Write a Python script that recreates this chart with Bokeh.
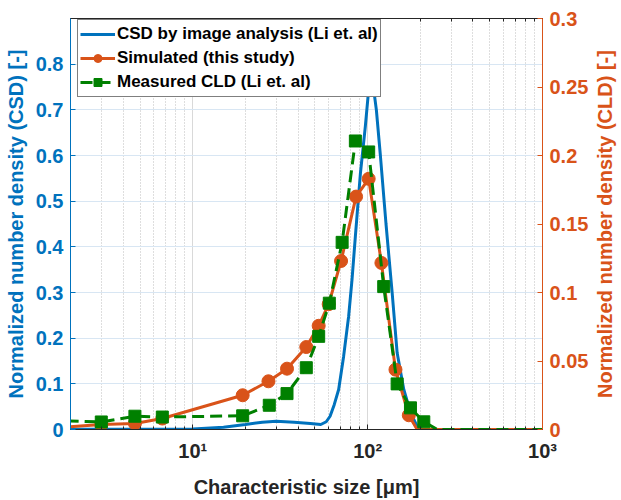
import math
from bokeh.plotting import figure
from bokeh.models import (Range1d, LinearAxis, LogAxis, LogTicker, FixedTicker,
                          CustomJSTickFormatter, Legend, LegendItem, Label)
from bokeh.embed import file_html
from bokeh.resources import INLINE

# CSD by image analysis (left axis)
csd_size = [1, 10, 15, 20, 25, 30, 38, 47, 54, 58, 61, 64.5, 68.3, 72.9, 77.9,
            81.5, 85.1, 90.9, 97.1, 101, 103, 105, 107, 109, 112.2, 118.3, 127.4,
            138.1, 147.5, 161, 176, 192, 206, 1000]
csd_density = [0, 0.001, 0.005, 0.011, 0.016, 0.018, 0.016, 0.013, 0.011, 0.017,
               0.029, 0.055, 0.0875, 0.16, 0.248, 0.33, 0.423, 0.56, 0.665, 0.737,
               0.76, 0.77, 0.76, 0.737, 0.70, 0.60, 0.45, 0.30, 0.168, 0.0875,
               0.037, 0.007, 0, 0]

# Simulated CLD (right axis)
sim_size = [1.5, 3.0, 4.67, 6.7, 19.3, 27.1, 34.6, 44.6, 52.5, 59.9, 70.5, 85.9,
            101.4, 119.9, 144.3, 172, 192, 1000]
sim_cld = [0.001, 0.0036, 0.0044, 0.008, 0.025, 0.0352, 0.0444, 0.0602, 0.0757,
           0.0915, 0.123, 0.170, 0.183, 0.1216, 0.0437, 0.0104, 0, 0]

# Measured CLD (right axis)
meas_size = [1.5, 3.0, 4.67, 6.7, 19.3, 27.4, 34.6, 44.6, 52.5, 60.4, 71.5, 85.1,
             101.4, 123.6, 147.5, 175.8, 209.5, 250, 1000]
meas_cld = [0.0068, 0.0055, 0.0097, 0.0091, 0.010, 0.0177, 0.0262, 0.0451, 0.068,
            0.0922, 0.1366, 0.2106, 0.2026, 0.1043, 0.0333, 0.0158, 0.0056, 0, 0]

left_ticks = [0, 0.1, 0.2, 0.3, 0.4, 0.5, 0.6, 0.7, 0.8]
right_ticks = [0, 0.05, 0.1, 0.15, 0.2, 0.25, 0.3]

BLUE = "#0072BD"
ORANGE = "#D95319"
GREEN = "#008000"
DARK = "#262626"
FONT = "Liberation Sans"

p = figure(width=621, height=500, x_axis_type="log",
           x_range=Range1d(2, 1000), y_range=Range1d(0, 0.9),
           output_backend="svg", toolbar_location=None,
           min_border_left=70, min_border_right=79,
           min_border_top=18, min_border_bottom=70)
p.extra_y_ranges = {"cld": Range1d(0, 0.3)}
p.background_fill_color = "white"
p.border_fill_color = "white"
p.outline_line_color = DARK
p.outline_line_width = 1

# grids
p.ygrid.ticker = FixedTicker(ticks=left_ticks)
p.ygrid.grid_line_color = "#d8e6f3"
p.ygrid.grid_line_width = 1
p.xgrid.ticker = LogTicker(num_minor_ticks=10)
p.xgrid.grid_line_color = "#d9d9d9"
p.xgrid.minor_grid_line_color = "#bdbdbd"
p.xgrid.minor_grid_line_dash = "1 2"

sup_js = """
const sup = {'0':'\\u2070','1':'\\u00b9','2':'\\u00b2','3':'\\u00b3','-':'\\u207b'};
const e = Math.round(Math.log10(tick));
return '10' + String(e).split('').map(c => sup[c] || c).join('');
"""

# bottom axis
xa = p.xaxis[0]
xa.ticker = LogTicker(num_minor_ticks=10)
xa.formatter = CustomJSTickFormatter(code=sup_js)
xa.axis_label = "Characteristic size [\u03bcm]"
xa.axis_line_color = DARK
xa.major_tick_line_color = DARK
xa.minor_tick_line_color = DARK
xa.major_tick_in = 5
xa.major_tick_out = 0
xa.minor_tick_in = 3
xa.minor_tick_out = 0
xa.major_label_text_color = DARK
xa.major_label_text_font = FONT
xa.major_label_text_font_style = "bold"
xa.major_label_text_font_size = "20px"
xa.major_label_standoff = 10
xa.axis_label_text_color = DARK
xa.axis_label_text_font = FONT
xa.axis_label_text_font_style = "bold"
xa.axis_label_text_font_size = "20px"
xa.axis_label_standoff = 11

# mirrored ticks along the top edge
top = LogAxis(ticker=LogTicker(num_minor_ticks=10),
              formatter=CustomJSTickFormatter(code="return ' ';"))
top.major_label_text_font_size = "1px"
top.major_label_text_alpha = 0
top.major_label_standoff = 0
top.axis_line_color = DARK
top.major_tick_line_color = DARK
top.minor_tick_line_color = DARK
top.major_tick_in = 5
top.major_tick_out = 0
top.minor_tick_in = 3
top.minor_tick_out = 0
p.add_layout(top, "above")

# left axis
ya = p.yaxis[0]
ya.ticker = FixedTicker(ticks=left_ticks)
ya.formatter = CustomJSTickFormatter(code="return String(Number(tick.toFixed(2)));")
ya.axis_label = "Normalized number density (CSD) [-]"

# right axis (its title is a rotated label in the right-hand panel)
ra = LinearAxis(y_range_name="cld")
ra.ticker = FixedTicker(ticks=right_ticks)
ra.formatter = CustomJSTickFormatter(code="return String(Number(tick.toFixed(3)));")
p.add_layout(ra, "right")

for ax_, col in [(ya, BLUE), (ra, ORANGE)]:
    ax_.axis_line_color = col
    ax_.axis_line_width = 1
    ax_.major_tick_line_color = col
    ax_.major_tick_in = 5
    ax_.major_tick_out = 0
    ax_.minor_tick_line_color = None
    ax_.major_label_text_color = col
    ax_.major_label_text_font = FONT
    ax_.major_label_text_font_style = "bold"
    ax_.major_label_text_font_size = "20px"
    ax_.major_label_standoff = 7
    ax_.axis_label_text_color = col
    ax_.axis_label_text_font = FONT
    ax_.axis_label_text_font_style = "bold"
    ax_.axis_label_text_font_size = "20px"
    ax_.axis_label_standoff = 6

# right-hand title, reading bottom-to-top like the left one
right_title = Label(x=2291, y=0.45, x_units="data", y_units="data",
                    text="Normalized number density (CLD) [-]",
                    angle=math.pi / 2, angle_units="rad",
                    text_align="center", text_baseline="middle",
                    text_color=ORANGE, text_font=FONT, text_font_style="bold",
                    text_font_size="20px")
p.add_layout(right_title, "right")

# series
r_csd = p.line(csd_size, csd_density, line_color=BLUE, line_width=3)

r_sim_l = p.line(sim_size, sim_cld, y_range_name="cld", line_color=ORANGE, line_width=3)
r_sim_m = p.scatter(sim_size[1:16], sim_cld[1:16], y_range_name="cld", marker="circle",
                    size=13, fill_color=ORANGE, line_color=ORANGE)

r_meas_l = p.line(meas_size, meas_cld, y_range_name="cld", line_color=GREEN,
                  line_width=3, line_dash="12 6")
r_meas_m = p.scatter(meas_size[1:17], meas_cld[1:17], y_range_name="cld", marker="square",
                     size=12, fill_color=GREEN, line_color=GREEN)

legend = Legend(items=[
    LegendItem(label="CSD by image analysis (Li et. al)", renderers=[r_csd]),
    LegendItem(label="Simulated (this study)", renderers=[r_sim_l, r_sim_m]),
    LegendItem(label="Measured CLD (Li et. al)", renderers=[r_meas_l, r_meas_m]),
], location=(7, 332))
legend.border_line_color = "black"
legend.border_line_width = 1
legend.background_fill_color = "white"
legend.background_fill_alpha = 1
legend.label_text_font = FONT
legend.label_text_font_style = "bold"
legend.label_text_font_size = "17px"
legend.label_text_color = "black"
legend.glyph_width = 35
legend.glyph_height = 20
legend.label_height = 24
legend.label_standoff = 2
legend.padding = 2
legend.spacing = 0
legend.margin = 0
p.add_layout(legend)

open("out.html", "w").write(file_html(p, INLINE))
